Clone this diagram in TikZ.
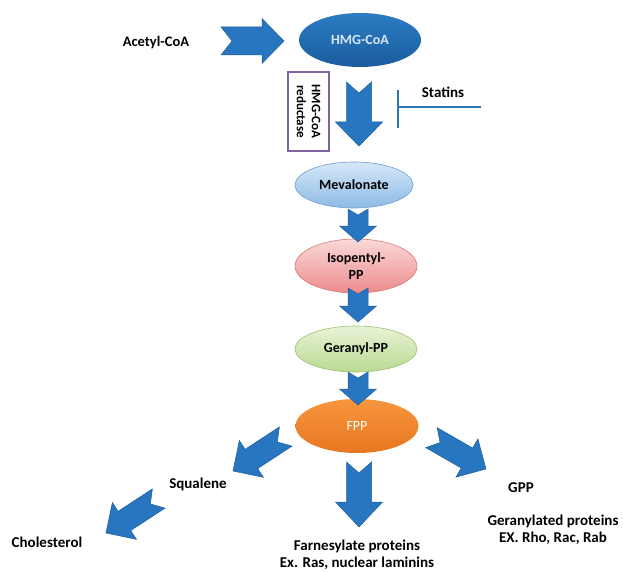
\documentclass[tikz,border=0pt]{standalone}
\usepackage{fontspec}
\setmainfont{Carlito}
\usetikzlibrary{shapes.geometric}
\definecolor{arrowblue}{RGB}{40,118,192}
\definecolor{arrowedge}{RGB}{30,95,160}
\definecolor{hmgtop}{RGB}{45,125,196}
\definecolor{hmgbot}{RGB}{26,92,158}
\definecolor{mevtop}{RGB}{214,232,248}
\definecolor{mevbot}{RGB}{140,186,228}
\definecolor{mevedge}{RGB}{110,158,210}
\definecolor{isotop}{RGB}{250,216,216}
\definecolor{isobot}{RGB}{236,140,140}
\definecolor{isoedge}{RGB}{216,120,120}
\definecolor{gertop}{RGB}{232,243,214}
\definecolor{gerbot}{RGB}{186,218,146}
\definecolor{geredge}{RGB}{155,194,110}
\definecolor{fpptop}{RGB}{246,150,62}
\definecolor{fppbot}{RGB}{232,118,32}
\definecolor{boxpurple}{RGB}{128,100,162}
\definecolor{statblue}{RGB}{46,117,182}
\newcommand\blockarr[8]{% x y angle length headhalf shafthalf headlen notch
  \begin{scope}[shift={(#1,#2)},rotate=#3]
    \filldraw[fill=arrowblue,draw=arrowedge,line width=0.5pt,line join=miter]
      (0,#6) -- ({#4-#7},#6) -- ({#4-#7},#5) -- (#4,0) -- ({#4-#7},-#5)
      -- ({#4-#7},-#6) -- (0,-#6) -- (#8,0) -- cycle;
  \end{scope}}
\tikzset{
  lbl/.style={font=\bfseries\fontsize{15}{17}\selectfont, align=center, inner sep=0pt},
  elab/.style={font=\bfseries\fontsize{14}{17}\selectfont, align=center},
  oval/.style={ellipse, inner sep=0pt},
}
\begin{document}
\begin{tikzpicture}[x=1pt,y=-1pt]
\useasboundingbox (0,0) rectangle (623,572);
% ellipses
\node[oval, minimum width=122pt, minimum height=54pt, top color=hmgtop, bottom color=hmgbot,
      font=\bfseries\fontsize{14}{17}\selectfont, text={rgb,255:red,214;green,230;blue,246}] (hmg) at (360,40) {HMG-CoA};
\node[oval, minimum width=118pt, minimum height=46pt, top color=mevtop, bottom color=mevbot,
      draw=mevedge, line width=0.6pt, elab] (mev) at (354,185) {Mevalonate};
\node[oval, minimum width=122pt, minimum height=54pt, top color=isotop, bottom color=isobot,
      draw=isoedge, line width=0.6pt, elab] (iso) at (356,266) {Isopentyl-\\PP};
\node[oval, minimum width=122pt, minimum height=46pt, top color=gertop, bottom color=gerbot,
      draw=geredge, line width=0.6pt, elab] (ger) at (356,349) {Geranyl-PP};
\node[oval, minimum width=123pt, minimum height=54pt, top color=fpptop, bottom color=fppbot,
      font=\fontsize{14}{17}\selectfont, text=white] (fpp) at (357,426) {FPP};
% block arrows
\blockarr{221}{41}{0}{63}{22.5}{14}{22}{11}
\blockarr{359}{82}{-90}{64}{23.5}{12.5}{24}{11}
\blockarr{358}{209}{-90}{33}{18.5}{10}{16}{6}
\blockarr{358}{288}{-90}{34}{18.5}{10}{16}{6}
\blockarr{358}{372}{-90}{33}{18.5}{10}{16}{6}
\blockarr{359}{462}{-90}{65}{23.5}{12.5}{25}{11}
\blockarr{285.7}{436.5}{-146.8}{63}{22}{11.5}{22}{10}
\blockarr{158.7}{498.5}{-146.8}{63}{22}{11.5}{22}{10}
\blockarr{431.4}{437.6}{-29.9}{63}{22}{11.5}{22}{10}
% labels
\node[lbl, font=\bfseries\fontsize{14.5}{17}\selectfont] (acetyl) at (156,43) {Acetyl-CoA};
\node[draw=boxpurple, line width=1.6pt, minimum width=41pt, minimum height=79pt, inner sep=0pt] (box) at (308.5,111.5) {};
\node[font=\bfseries\fontsize{13}{15}\selectfont, align=center, rotate=-90, inner sep=0pt] (boxtxt) at (box.center) {HMG-CoA\\reductase};
\node[lbl] (statins) at (443,92) {Statins};
\coordinate (barT) at (398,90);
\coordinate (barB) at (398,128);
\coordinate (lineE) at (481,107);
\draw[statblue, line width=2.4pt] (barT) -- (barB);
\draw[statblue, line width=2.4pt] (lineE) -- (lineE -| barT);
\node[lbl] (squalene) at (198,484) {Squalene};
\node[lbl] (chol) at (47,542) {Cholesterol};
\node[lbl] (farn) at (357,555) {Farnesylate proteins\\Ex. Ras, nuclear laminins};
\node[lbl] (gpp) at (521,488) {GPP};
\node[lbl] (geranylated) at (553,530) {Geranylated proteins\\EX. Rho, Rac, Rab};
\end{tikzpicture}
\end{document}
